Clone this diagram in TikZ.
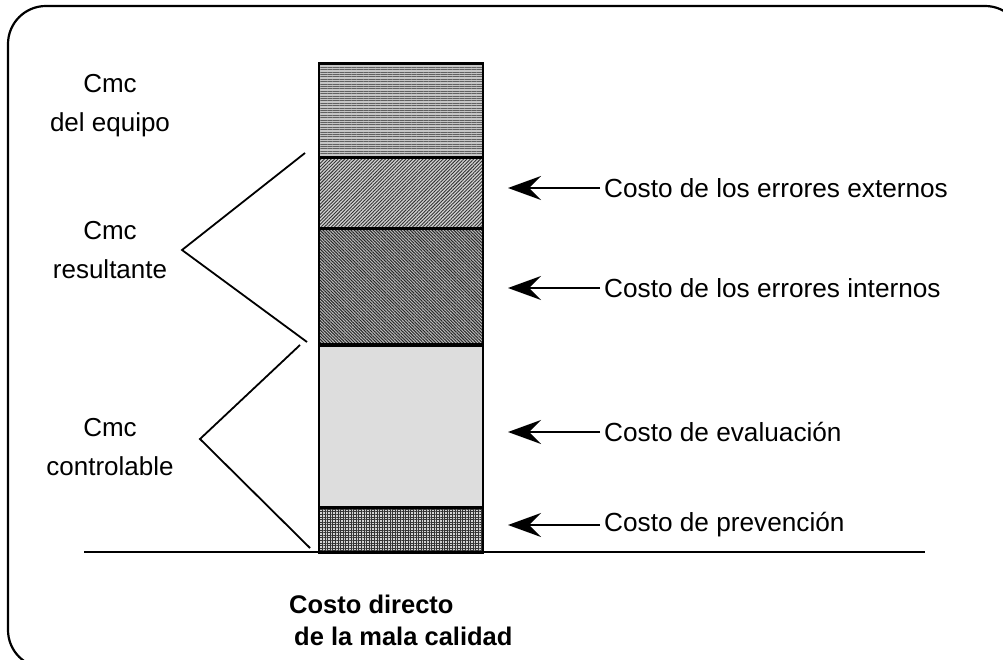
\documentclass[tikz,border=0pt]{standalone}
\usepackage{fontspec}
\setmainfont{Liberation Sans}
\usepackage{tikz}
\usetikzlibrary{arrows.meta,patterns.meta,positioning}

\tikzset{
	seg/.style = {draw, line width=2.8pt, minimum width=164pt, inner sep=0pt, anchor=north},
	etiq/.style = {anchor=west, inner sep=4pt, font=\fontsize{26.2}{30}\selectfont},
	grupo/.style = {align=center, inner sep=0pt, font=\fontsize{26}{39}\selectfont},
	flecha/.style = {line width=1.8pt, -{Stealth[length=33pt, width=24pt, inset=12pt]}},
	llave/.style = {line width=1.8pt},
}

\begin{document}
\begin{tikzpicture}[x=1pt, y=-1pt]
	\useasboundingbox (0,0) rectangle (1003,660);
	\clip (0,0) rectangle (1003,660);

	% marco
	\draw[line width=2.2pt, rounded corners=38pt] (8,6) rectangle (1023,668);

	% linea base
	\draw[line width=1.8pt] (84,552) -- (925,552);

	% barra
	\node[seg, minimum height=94pt, preaction={fill=gray!45}, pattern={Lines[angle=0, distance=2.4pt, line width=0.7pt]}, pattern color=gray!75!black] (equipo) at (401,63) {};
	\node[seg, minimum height=71pt, preaction={fill=gray!35}, pattern={Lines[angle=45, distance=2.4pt, line width=0.9pt]}, pattern color=black!80] (externos) at (401,157) {};
	\node[seg, minimum height=116pt, preaction={fill=gray!50}, pattern={Lines[angle=-45, distance=2.2pt, line width=1pt]}, pattern color=black!85] (internos) at (401,228) {};
	\node[seg, minimum height=163pt, preaction={fill=gray!22}, pattern={Dots[distance=2pt, radius=0.45pt]}, pattern color=gray!70] (evaluacion) at (401,344) {};
	\node[seg, minimum height=45pt, preaction={fill=gray!35}, pattern={Hatch[angle=0, distance=2.6pt, line width=0.9pt]}, pattern color=black!80] (prevencion) at (401,507) {};

	% costos
	\node[etiq] (lext) at (600,188) {Costo de los errores externos};
	\node[etiq] (lint) at (600,288) {Costo de los errores internos};
	\node[etiq] (leva) at (600,432) {Costo de evaluación};
	\node[etiq] (lpre) at (600,525) {Costo de prevención};
	\coordinate (pext) at (508,188);
	\coordinate (pint) at (508,288);
	\coordinate (peva) at (508,432);
	\coordinate (ppre) at (508,525);
	\draw[flecha] (lext) -- (pext);
	\draw[flecha] (lint) -- (pint);
	\draw[flecha] (leva) -- (peva);
	\draw[flecha] (lpre) -- (ppre);

	% grupos
	\node[grupo] (gequipo) at (110,106) {Cmc\\del equipo};
	\node[grupo] (gresult) at (110,250) {Cmc\\resultante};
	\node[grupo] (gcontrol) at (110,447) {Cmc\\controlable};

	\coordinate (r1) at (305,153);
	\coordinate (r2) at (182,250);
	\coordinate (r3) at (307,342);
	\coordinate (c1) at (300,345);
	\coordinate (c2) at (200,439);
	\coordinate (c3) at (310,548);
	\draw[llave] (r1) -- (r2) -- (r3);
	\draw[llave] (c1) -- (c2) -- (c3);

	% titulo
	\node[anchor=west, inner sep=0pt, font=\fontsize{25.5}{30}\selectfont\bfseries] (tit1) at (289,604) {Costo directo};
	\node[anchor=west, inner sep=0pt, font=\fontsize{25.5}{30}\selectfont\bfseries] (tit2) at (294,636) {de la mala calidad};
\end{tikzpicture}
\end{document}
